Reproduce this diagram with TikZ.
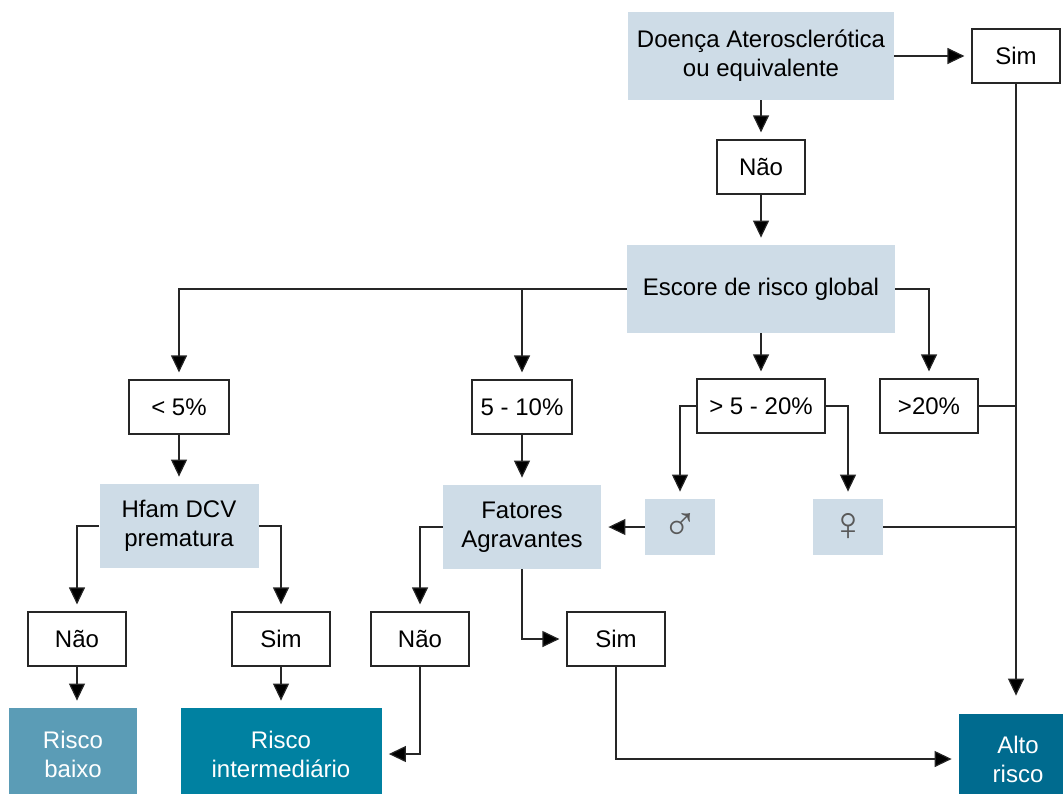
\documentclass[tikz,border=0pt]{standalone}
\usepackage{fontspec}
\setmainfont{Liberation Sans}
\usetikzlibrary{arrows.meta}
\definecolor{azulclaro}{HTML}{CEDCE7}
\definecolor{riscobaixo}{HTML}{5B9CB6}
\definecolor{riscomedio}{HTML}{0081A1}
\definecolor{riscoalto}{HTML}{006B8F}
\definecolor{linha}{HTML}{262626}

\begin{document}
\begin{tikzpicture}[x=0.5pt,y=-0.5pt,
    font=\fontsize{12}{14.5}\selectfont,
    caixa/.style={draw=linha,line width=0.6pt,fill=white,inner sep=0pt,align=center,minimum height=27pt},
    criterio/.style={fill=azulclaro,inner sep=0pt,align=center},
    sexo/.style={criterio,minimum width=35pt,minimum height=28pt,text=black!65,font=\fontsize{24}{24}\selectfont},
    desfecho/.style={inner sep=0pt,align=center,text=white},
    liga/.style={draw=linha,line width=0.6pt},
    seta/.style={liga,-{Triangle[length=8.5pt,width=8pt,fill=black]},shorten >=3.5pt}]

    \useasboundingbox (0,0) rectangle (1063,793);
    \clip (0,0) rectangle (1063,793);

% Caixas
	\node[criterio,minimum width=133pt,minimum height=44pt] (doenca) at (761,56) {Doença Aterosclerótica\\ou equivalente};
	\node[caixa,minimum width=44pt] (simtop) at (1016,56) {Sim};
	\node[caixa,minimum width=44pt] (naotop) at (761,167) {Não};
	\node[criterio,minimum width=134pt,minimum height=44pt] (escore) at (761,289) {Escore de risco global};

	\node[caixa,minimum width=50pt] (menor5) at (179,407) {< 5\%};
	\node[caixa,minimum width=50pt] (de5a10) at (522,407) {5 - 10\%};
	\node[caixa,minimum width=64pt] (de5a20) at (761,406) {> 5 - 20\%};
	\node[caixa,minimum width=49pt] (maior20) at (929,406) {>20\%};

	\node[criterio,minimum width=79.5pt,minimum height=42pt] (hfam) at (179,526) {Hfam DCV\\prematura};
	\node[criterio,minimum width=79pt,minimum height=42pt] (fatores) at (522,527) {Fatores\\Agravantes};
	\node[sexo] (masc) at (680,527) {♂};
	\node[sexo] (fem) at (848,527) {♀};

	\node[caixa,minimum width=49pt] (naoA) at (77,639) {Não};
	\node[caixa,minimum width=49pt] (simA) at (281,639) {Sim};
	\node[caixa,minimum width=49pt] (naoB) at (420,639) {Não};
	\node[caixa,minimum width=49pt] (simB) at (616,639) {Sim};

	\node[desfecho,fill=riscobaixo,minimum width=64pt,minimum height=46pt] (baixo) at (73,754) {Risco\\baixo};
	\node[desfecho,fill=riscomedio,minimum width=100.5pt,minimum height=46pt] (interm) at (281,754) {Risco\\intermediário};
	\node[desfecho,fill=riscoalto,minimum width=59pt,minimum height=45pt] (alto) at (1018,759) {Alto\\risco};

% Ligações
	\foreach \a/\b in {doenca/simtop, doenca/naotop, naotop/escore, escore/de5a20,
	                   menor5/hfam, de5a10/fatores, masc/fatores, simA/interm}
		\draw[seta] (\a) -- (\b);

	\draw[seta] (escore.west) -| (menor5.north);
	\draw[seta] (escore.west -| de5a10) -- (de5a10.north);
	\draw[seta] (escore.east) -| (maior20.north);

	\draw[seta] (de5a20.west) -| (masc.north);
	\draw[seta] (de5a20.east) -| (fem.north);

	\draw[seta] (hfam.west) -| (naoA.north);
	\draw[seta] (hfam.east) -| (simA.north);
	\draw[seta] (fatores.west) -| (naoB.north);
	\draw[seta] (fatores.south) |- (simB.west);

	\draw[seta] (naoA.south) -- (naoA.south |- baixo.north);
	\draw[seta] (naoB.south) |- (interm.east);
	\draw[seta] (simB.south) |- (alto.west);

% Alto risco
	\draw[seta,shorten >=9pt] (simtop.south) -- (simtop.south |- alto.north);
	\draw[liga] (maior20.east) -- (maior20.east -| simtop.south);
	\draw[liga] (fem.east) -- (fem.east -| simtop.south);
\end{tikzpicture}
\end{document}
